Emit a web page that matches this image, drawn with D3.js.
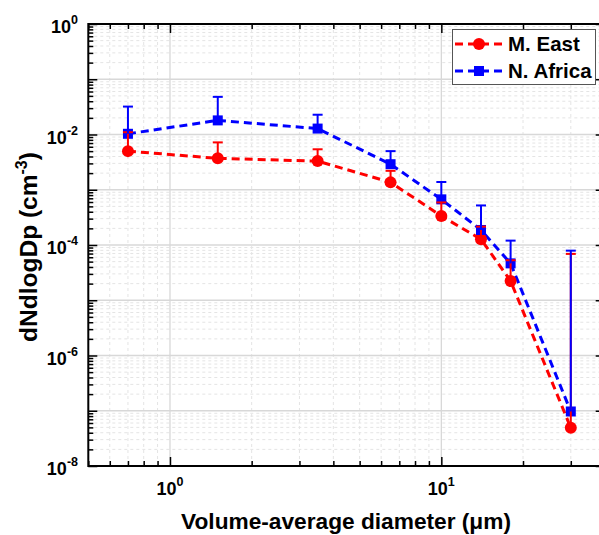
<!DOCTYPE html>
<html><head><meta charset="utf-8">
<script src="https://cdn.jsdelivr.net/npm/d3@7"></script>
<style>body{margin:0;background:#fff}svg{display:block}text{font-family:Arial,"Liberation Sans",sans-serif;font-weight:bold}</style>
</head><body>
<script>
const diameters = [0.7, 1.5, 3.5, 6.5, 10, 14, 18, 30];
const mEast = [5.0e-3, 3.7e-3, 3.3e-3, 1.36e-3, 3.35e-4, 1.27e-4, 2.23e-5, 4.9e-8];
const mEastUpper = [1.1e-2, 7.2e-3, 5.4e-3, 2.2e-3, 5.9e-4, 2.15e-4, 5.3e-5, 6.9e-5];
const nAfrica = [1.03e-2, 1.8e-2, 1.28e-2, 2.9e-3, 6.7e-4, 1.87e-4, 4.65e-5, 9.7e-8];
const nAfricaUpper = [3.2e-2, 4.8e-2, 2.28e-2, 5.0e-3, 1.38e-3, 5.2e-4, 1.2e-4, 7.9e-5];
const seriesNames = ["M. East", "N. Africa"];
const xTickExps = [0, 1];
const yTickExps = [0, -2, -4, -6, -8];

const W = 599, H = 535;
const L = 88.3, R = 604.7, T = 24, B = 466;
const svg = d3.select("body").append("svg").attr("width", W).attr("height", H);
const x = d3.scaleLog().domain([0.5, 40]).range([L, R]);
const y = d3.scaleLog().domain([1e-8, 1]).range([B, T]);

const xMinor = [], xMajor = [1, 10];
[0.1, 1, 10].forEach(d => { for (let k = 2; k <= 9; k++) { const v = d * k; if (v >= 0.5 && v <= 40) xMinor.push(v); } });
const yMajor = d3.range(-8, 1).map(e => Math.pow(10, e));
const yMinor = [];
d3.range(-8, 0).forEach(e => { for (let k = 2; k <= 9; k++) yMinor.push(k * Math.pow(10, e)); });

const g = svg.append("g");
g.selectAll(".gxm").data(xMinor).join("line").attr("x1", d => x(d)).attr("x2", d => x(d)).attr("y1", T).attr("y2", B)
  .attr("stroke", "#e4e4e4").attr("stroke-width", 1).attr("stroke-dasharray", "3,3");
g.selectAll(".gym").data(yMinor).join("line").attr("y1", d => y(d)).attr("y2", d => y(d)).attr("x1", L).attr("x2", R)
  .attr("stroke", "#e4e4e4").attr("stroke-width", 1).attr("stroke-dasharray", "3,3");
g.selectAll(".gxM").data(xMajor).join("line").attr("x1", d => x(d)).attr("x2", d => x(d)).attr("y1", T).attr("y2", B)
  .attr("stroke", "#d8d8d8").attr("stroke-width", 1.3);
g.selectAll(".gyM").data(yMajor).join("line").attr("y1", d => y(d)).attr("y2", d => y(d)).attr("x1", L).attr("x2", R)
  .attr("stroke", "#d8d8d8").attr("stroke-width", 1.3);

function ticks(axisGen, vals, len) { return axisGen.tickValues(vals).tickSize(len).tickFormat(""); }
const ax = svg.append("g");
ax.append("g").attr("transform", `translate(0,${B})`).call(ticks(d3.axisTop(x), xMajor, 9));
ax.append("g").attr("transform", `translate(0,${B})`).call(ticks(d3.axisTop(x), xMinor, 5));
ax.append("g").attr("transform", `translate(0,${T})`).call(ticks(d3.axisBottom(x), xMajor, 9));
ax.append("g").attr("transform", `translate(0,${T})`).call(ticks(d3.axisBottom(x), xMinor, 5));
ax.append("g").attr("transform", `translate(${L},0)`).call(ticks(d3.axisRight(y), yMajor, 9));
ax.append("g").attr("transform", `translate(${L},0)`).call(ticks(d3.axisRight(y), yMinor, 5));
ax.append("g").attr("transform", `translate(${R},0)`).call(ticks(d3.axisLeft(y), yMajor, 9));
ax.append("g").attr("transform", `translate(${R},0)`).call(ticks(d3.axisLeft(y), yMinor, 5));
ax.selectAll("path.domain").remove();
ax.selectAll(".tick line").attr("stroke", "#000").attr("stroke-width", 1.5);
svg.append("rect").attr("x", L).attr("y", T).attr("width", R - L).attr("height", B - T)
  .attr("fill", "none").attr("stroke", "#000").attr("stroke-width", 2);

xTickExps.forEach(e => {
  const t = svg.append("text").attr("x", x(Math.pow(10, e))).attr("y", 495).attr("text-anchor", "middle").attr("font-size", 18);
  t.append("tspan").text("10");
  t.append("tspan").attr("dy", -9).attr("font-size", 12.5).text(e);
});
yTickExps.forEach(e => {
  const t = svg.append("text").attr("x", 78).attr("y", y(Math.pow(10, e)) + 9).attr("text-anchor", "end").attr("font-size", 18);
  t.append("tspan").text("10");
  t.append("tspan").attr("dy", -9).attr("font-size", 12.5).text(e);
});

svg.append("text").attr("x", 346).attr("y", 529).attr("text-anchor", "middle").attr("font-size", 22.7)
  .text("Volume-average diameter (μm)");
const yt = svg.append("text").attr("transform", `translate(37,${(T + B) / 2 + 2}) rotate(-90)`).attr("text-anchor", "middle").attr("font-size", 24.5);
yt.append("tspan").text("dNdlogDp (cm");
yt.append("tspan").attr("dy", -10).attr("font-size", 16).text("-3");
yt.append("tspan").attr("dy", 10).text(")");

const series = [
  { name: seriesNames[0], vals: mEast, up: mEastUpper, color: "#ff0000", shape: "circle" },
  { name: seriesNames[1], vals: nAfrica, up: nAfricaUpper, color: "#0000ff", shape: "square" }
];
const line = d3.line().x(d => x(d[0])).y(d => y(d[1]));
const plot = svg.append("g");
series.forEach(s => {
  plot.append("path").datum(diameters.map((d, i) => [d, s.vals[i]])).attr("d", line)
    .attr("fill", "none").attr("stroke", s.color).attr("stroke-width", 3).attr("stroke-dasharray", "8,5");
});
function marker(sel, s, cx, cy) {
  if (s.shape === "circle") sel.append("circle").attr("cx", cx).attr("cy", cy).attr("r", 6).attr("fill", s.color);
  else sel.append("rect").attr("x", cx - 5).attr("y", cy - 5).attr("width", 10).attr("height", 10).attr("fill", s.color);
}
series.forEach(s => { diameters.forEach((d, i) => marker(plot, s, x(d), y(s.vals[i]))); });
series.forEach(s => {
  diameters.forEach((d, i) => {
    const cx = x(d);
    plot.append("line").attr("x1", cx).attr("x2", cx).attr("y1", y(s.vals[i])).attr("y2", y(s.up[i]))
      .attr("stroke", s.color).attr("stroke-width", 2);
    plot.append("line").attr("x1", cx - 5).attr("x2", cx + 5).attr("y1", y(s.up[i])).attr("y2", y(s.up[i]))
      .attr("stroke", s.color).attr("stroke-width", 2);
  });
});

const lg = svg.append("g");
lg.append("rect").attr("x", 452.5).attr("y", 29.5).attr("width", 143).attr("height", 55)
  .attr("fill", "#fff").attr("stroke", "#555").attr("stroke-width", 1);
series.forEach((s, i) => {
  const ly = 44 + i * 27;
  lg.append("line").attr("x1", 455).attr("x2", 503).attr("y1", ly).attr("y2", ly)
    .attr("stroke", s.color).attr("stroke-width", 3).attr("stroke-dasharray", "8,5");
  marker(lg, s, 479, ly);
  lg.append("text").attr("x", 508).attr("y", ly + 7).attr("font-size", 20.5).text(s.name);
});
</script>
</body></html>
